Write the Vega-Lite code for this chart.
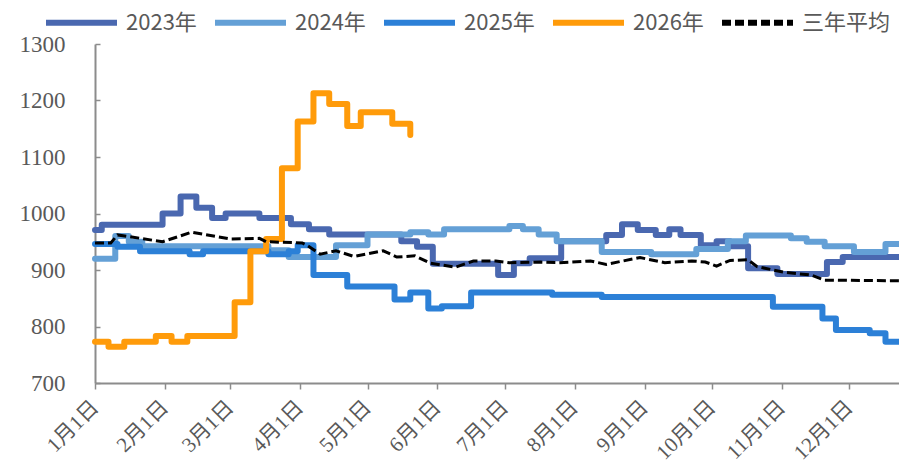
{
  "$schema": "https://vega.github.io/schema/vega-lite/v6.json",
  "width": 804,
  "height": 339,
  "autosize": {"type": "none"},
  "padding": {"left": 95, "top": 44, "right": 0, "bottom": 88},
  "background": "white",
  "config": {"view": {"stroke": null}},
  "datasets": {
    "steps": [
      {"series": "2023年", "date": "2024-01-01", "value": 971},
      {"series": "2023年", "date": "2024-01-04", "value": 980},
      {"series": "2023年", "date": "2024-01-31", "value": 1000},
      {"series": "2023年", "date": "2024-02-08", "value": 1030},
      {"series": "2023年", "date": "2024-02-15", "value": 1010},
      {"series": "2023年", "date": "2024-02-22", "value": 992},
      {"series": "2023年", "date": "2024-02-28", "value": 1000},
      {"series": "2023年", "date": "2024-03-14", "value": 992},
      {"series": "2023年", "date": "2024-03-28", "value": 981},
      {"series": "2023年", "date": "2024-04-05", "value": 972},
      {"series": "2023年", "date": "2024-04-14", "value": 963},
      {"series": "2023年", "date": "2024-05-16", "value": 951},
      {"series": "2023年", "date": "2024-05-23", "value": 941},
      {"series": "2023年", "date": "2024-05-30", "value": 911},
      {"series": "2023年", "date": "2024-06-28", "value": 891},
      {"series": "2023年", "date": "2024-07-05", "value": 912},
      {"series": "2023年", "date": "2024-07-12", "value": 921},
      {"series": "2023年", "date": "2024-07-26", "value": 951},
      {"series": "2023年", "date": "2024-08-15", "value": 962},
      {"series": "2023年", "date": "2024-08-22", "value": 981},
      {"series": "2023年", "date": "2024-08-29", "value": 971},
      {"series": "2023年", "date": "2024-09-06", "value": 962},
      {"series": "2023年", "date": "2024-09-12", "value": 972},
      {"series": "2023年", "date": "2024-09-17", "value": 962},
      {"series": "2023年", "date": "2024-09-26", "value": 944},
      {"series": "2023年", "date": "2024-10-03", "value": 951},
      {"series": "2023年", "date": "2024-10-09", "value": 942},
      {"series": "2023年", "date": "2024-10-17", "value": 903},
      {"series": "2023年", "date": "2024-10-30", "value": 893},
      {"series": "2023年", "date": "2024-11-21", "value": 914},
      {"series": "2023年", "date": "2024-11-28", "value": 923},
      {"series": "2023年", "date": "2024-12-23", "value": 923},
      {"series": "2024年", "date": "2024-01-01", "value": 920},
      {"series": "2024年", "date": "2024-01-10", "value": 960},
      {"series": "2024年", "date": "2024-01-16", "value": 950},
      {"series": "2024年", "date": "2024-01-22", "value": 942},
      {"series": "2024年", "date": "2024-03-18", "value": 935},
      {"series": "2024年", "date": "2024-03-27", "value": 923},
      {"series": "2024年", "date": "2024-04-17", "value": 944},
      {"series": "2024年", "date": "2024-05-01", "value": 963},
      {"series": "2024年", "date": "2024-05-20", "value": 967},
      {"series": "2024年", "date": "2024-05-28", "value": 963},
      {"series": "2024年", "date": "2024-06-04", "value": 972},
      {"series": "2024年", "date": "2024-07-03", "value": 978},
      {"series": "2024年", "date": "2024-07-09", "value": 972},
      {"series": "2024年", "date": "2024-07-16", "value": 963},
      {"series": "2024年", "date": "2024-07-24", "value": 951},
      {"series": "2024年", "date": "2024-08-13", "value": 932},
      {"series": "2024年", "date": "2024-09-04", "value": 928},
      {"series": "2024年", "date": "2024-09-24", "value": 937},
      {"series": "2024年", "date": "2024-10-08", "value": 951},
      {"series": "2024年", "date": "2024-10-16", "value": 961},
      {"series": "2024年", "date": "2024-11-05", "value": 956},
      {"series": "2024年", "date": "2024-11-12", "value": 950},
      {"series": "2024年", "date": "2024-11-20", "value": 942},
      {"series": "2024年", "date": "2024-12-03", "value": 932},
      {"series": "2024年", "date": "2024-12-17", "value": 946},
      {"series": "2024年", "date": "2024-12-23", "value": 946},
      {"series": "2025年", "date": "2024-01-01", "value": 946},
      {"series": "2025年", "date": "2024-01-11", "value": 941},
      {"series": "2025年", "date": "2024-01-21", "value": 933},
      {"series": "2025年", "date": "2024-02-12", "value": 928},
      {"series": "2025年", "date": "2024-02-18", "value": 933},
      {"series": "2025年", "date": "2024-03-18", "value": 928},
      {"series": "2025年", "date": "2024-03-27", "value": 933},
      {"series": "2025年", "date": "2024-03-31", "value": 944},
      {"series": "2025年", "date": "2024-04-07", "value": 891},
      {"series": "2025年", "date": "2024-04-22", "value": 871},
      {"series": "2025年", "date": "2024-05-13", "value": 848},
      {"series": "2025年", "date": "2024-05-20", "value": 860},
      {"series": "2025年", "date": "2024-05-28", "value": 832},
      {"series": "2025年", "date": "2024-06-03", "value": 836},
      {"series": "2025年", "date": "2024-06-16", "value": 860},
      {"series": "2025年", "date": "2024-07-22", "value": 856},
      {"series": "2025年", "date": "2024-08-13", "value": 852},
      {"series": "2025年", "date": "2024-10-28", "value": 835},
      {"series": "2025年", "date": "2024-11-19", "value": 814},
      {"series": "2025年", "date": "2024-11-25", "value": 794},
      {"series": "2025年", "date": "2024-12-10", "value": 788},
      {"series": "2025年", "date": "2024-12-17", "value": 773},
      {"series": "2025年", "date": "2024-12-23", "value": 773},
      {"series": "2026年", "date": "2024-01-01", "value": 773},
      {"series": "2026年", "date": "2024-01-07", "value": 764},
      {"series": "2026年", "date": "2024-01-14", "value": 773},
      {"series": "2026年", "date": "2024-01-28", "value": 783},
      {"series": "2026年", "date": "2024-02-04", "value": 773},
      {"series": "2026年", "date": "2024-02-11", "value": 783},
      {"series": "2026年", "date": "2024-03-03", "value": 843},
      {"series": "2026年", "date": "2024-03-10", "value": 933},
      {"series": "2026年", "date": "2024-03-17", "value": 955},
      {"series": "2026年", "date": "2024-03-24", "value": 1080},
      {"series": "2026年", "date": "2024-03-31", "value": 1163},
      {"series": "2026年", "date": "2024-04-07", "value": 1213},
      {"series": "2026年", "date": "2024-04-14", "value": 1194},
      {"series": "2026年", "date": "2024-04-22", "value": 1155},
      {"series": "2026年", "date": "2024-04-28", "value": 1179},
      {"series": "2026年", "date": "2024-05-12", "value": 1159},
      {"series": "2026年", "date": "2024-05-20", "value": 1139}
    ],
    "avg": [
      {"series": "三年平均", "date": "2024-01-01", "value": 948},
      {"series": "三年平均", "date": "2024-01-08", "value": 948},
      {"series": "三年平均", "date": "2024-01-11", "value": 962},
      {"series": "三年平均", "date": "2024-01-18", "value": 958},
      {"series": "三年平均", "date": "2024-01-31", "value": 950},
      {"series": "三年平均", "date": "2024-02-13", "value": 967},
      {"series": "三年平均", "date": "2024-03-01", "value": 955},
      {"series": "三年平均", "date": "2024-03-14", "value": 956},
      {"series": "三年平均", "date": "2024-03-17", "value": 950},
      {"series": "三年平均", "date": "2024-04-02", "value": 948},
      {"series": "三年平均", "date": "2024-04-04", "value": 944},
      {"series": "三年平均", "date": "2024-04-10", "value": 928},
      {"series": "三年平均", "date": "2024-04-17", "value": 934},
      {"series": "三年平均", "date": "2024-04-25", "value": 924},
      {"series": "三年平均", "date": "2024-05-08", "value": 934},
      {"series": "三年平均", "date": "2024-05-14", "value": 923},
      {"series": "三年平均", "date": "2024-05-22", "value": 925},
      {"series": "三年平均", "date": "2024-05-29", "value": 912},
      {"series": "三年平均", "date": "2024-06-09", "value": 905},
      {"series": "三年平均", "date": "2024-06-17", "value": 916},
      {"series": "三年平均", "date": "2024-06-27", "value": 916},
      {"series": "三年平均", "date": "2024-07-03", "value": 913},
      {"series": "三年平均", "date": "2024-07-17", "value": 914},
      {"series": "三年平均", "date": "2024-07-25", "value": 913},
      {"series": "三年平均", "date": "2024-08-08", "value": 916},
      {"series": "三年平均", "date": "2024-08-15", "value": 910},
      {"series": "三年平均", "date": "2024-08-30", "value": 922},
      {"series": "三年平均", "date": "2024-09-10", "value": 913},
      {"series": "三年平均", "date": "2024-09-22", "value": 916},
      {"series": "三年平均", "date": "2024-09-28", "value": 914},
      {"series": "三年平均", "date": "2024-10-03", "value": 907},
      {"series": "三年平均", "date": "2024-10-09", "value": 917},
      {"series": "三年平均", "date": "2024-10-17", "value": 918},
      {"series": "三年平均", "date": "2024-10-21", "value": 906},
      {"series": "三年平均", "date": "2024-11-02", "value": 896},
      {"series": "三年平均", "date": "2024-11-14", "value": 891},
      {"series": "三年平均", "date": "2024-11-20", "value": 882},
      {"series": "三年平均", "date": "2024-12-23", "value": 881}
    ]
  },
  "encoding": {
    "x": {
      "field": "date",
      "type": "temporal",
      "scale": {
        "type": "utc",
        "domain": [
          {"year": 2024, "month": 1, "date": 1, "utc": true},
          {"year": 2024, "month": 12, "date": 23, "utc": true}
        ]
      },
      "axis": {
        "title": null,
        "grid": false,
        "values": [
          {"year": 2024, "month": 1, "date": 1, "utc": true},
          {"year": 2024, "month": 2, "date": 1, "utc": true},
          {"year": 2024, "month": 3, "date": 1, "utc": true},
          {"year": 2024, "month": 4, "date": 1, "utc": true},
          {"year": 2024, "month": 5, "date": 1, "utc": true},
          {"year": 2024, "month": 6, "date": 1, "utc": true},
          {"year": 2024, "month": 7, "date": 1, "utc": true},
          {"year": 2024, "month": 8, "date": 1, "utc": true},
          {"year": 2024, "month": 9, "date": 1, "utc": true},
          {"year": 2024, "month": 10, "date": 1, "utc": true},
          {"year": 2024, "month": 11, "date": 1, "utc": true},
          {"year": 2024, "month": 12, "date": 1, "utc": true}
        ],
        "labelExpr": "utcFormat(datum.value, '%-m月%-d日')",
        "labelAngle": -45,
        "labelAlign": "right",
        "labelBaseline": "middle",
        "labelFont": "Liberation Serif, Noto Sans CJK SC",
        "labelFontSize": 21,
        "labelColor": "#595959",
        "labelPadding": 15,
        "labelOverlap": false,
        "labelFlush": false,
        "domainColor": "#8c8c8c",
        "domainWidth": 2,
        "tickColor": "#8c8c8c",
        "tickSize": 6,
        "tickWidth": 1.5
      }
    },
    "y": {
      "field": "value",
      "type": "quantitative",
      "scale": {"domain": [700, 1300], "nice": false, "zero": false},
      "axis": {
        "title": null,
        "grid": false,
        "values": [700, 800, 900, 1000, 1100, 1200, 1300],
        "format": "d",
        "labelFont": "Liberation Serif",
        "labelFontSize": 23,
        "labelColor": "#595959",
        "labelPadding": 35,
        "domainColor": "#8c8c8c",
        "domainWidth": 2,
        "tickColor": "#8c8c8c",
        "tickSize": -5,
        "tickWidth": 1.5
      }
    },
    "color": {
      "field": "series",
      "type": "nominal",
      "scale": {
        "domain": ["2023年", "2024年", "2025年", "2026年", "三年平均"],
        "range": ["#4A68B0", "#64A0D6", "#2C80D7", "#FF9B0A", "#000000"]
      },
      "legend": {
        "title": null,
        "orient": "none",
        "legendX": -52,
        "legendY": -60,
        "direction": "horizontal",
        "columns": 5,
        "symbolType": "stroke",
        "symbolSize": 5041,
        "symbolStrokeWidth": 6,
        "labelFont": "Noto Sans CJK SC",
        "labelFontSize": 22,
        "labelColor": "#595959",
        "labelOffset": 6,
        "columnPadding": 6,
        "padding": 0,
        "labelLimit": 300
      }
    },
    "strokeDash": {
      "field": "series",
      "type": "nominal",
      "scale": {
        "domain": ["2023年", "2024年", "2025年", "2026年", "三年平均"],
        "range": [[1, 0], [1, 0], [1, 0], [1, 0], [9, 4]]
      },
      "legend": null
    }
  },
  "layer": [
    {
      "data": {"name": "steps"},
      "mark": {"type": "line", "interpolate": "step-after", "strokeWidth": 6, "strokeJoin": "round", "strokeCap": "round"}
    },
    {
      "data": {"name": "avg"},
      "mark": {"type": "line", "strokeWidth": 3}
    }
  ]
}
